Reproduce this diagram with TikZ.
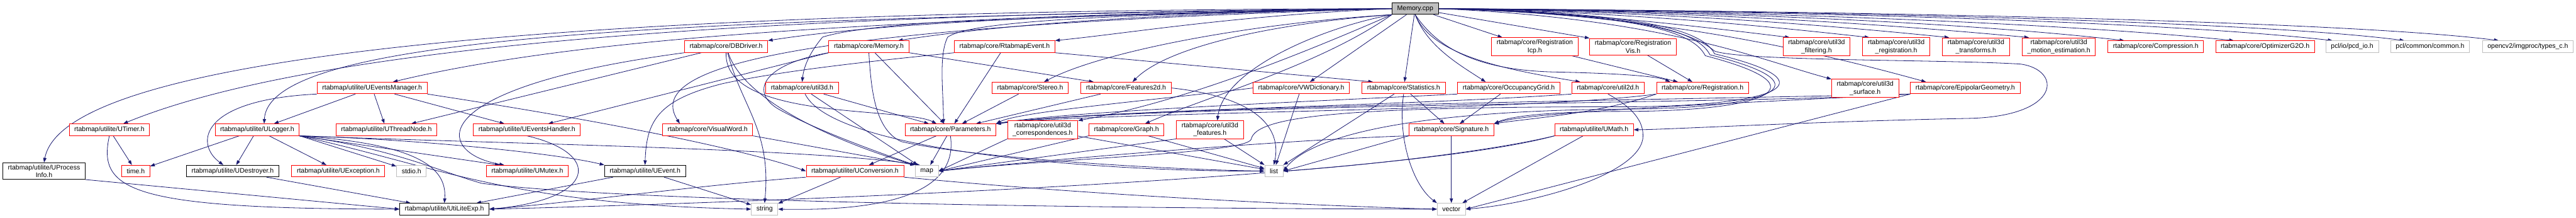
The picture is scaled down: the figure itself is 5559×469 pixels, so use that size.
\documentclass[tikz,border=0pt]{standalone}
\usepackage{fontspec}
\setmainfont{Liberation Sans}
\usepackage{tikz}
\usetikzlibrary{arrows.meta,backgrounds}

\definecolor{edgeblue}{HTML}{191970}
\definecolor{grey75}{HTML}{BFBFBF}

\tikzset{
  filebox/.style={draw, line width=1.2pt, fill=white, font=\fontsize{14.3}{17}\selectfont,
    inner xsep=11pt, inner ysep=4pt, minimum height=25pt, align=center},
  truncfile/.style={filebox, draw=red},
  docfile/.style={filebox, draw=black},
  sysfile/.style={filebox, draw=grey75},
  rootfile/.style={filebox, draw=black, fill=grey75},
  dep/.style={->, draw=edgeblue, line width=1.1pt},
}

\begin{document}
\begin{tikzpicture}[x=1pt, y=1pt, >={Triangle[length=10pt,width=7pt]}]
        \useasboundingbox (0,0) rectangle (5559,-469);

        % Root
        \node[rootfile] (mcpp) at (3054,-18.5) {Memory.cpp};

        % Row 1
        \node[truncfile] (dbdriver) at (1567,-100.5) {rtabmap/core/DBDriver.h};
        \node[truncfile] (memh) at (1875,-100.5) {rtabmap/core/Memory.h};
        \node[truncfile] (rtevent) at (2168,-100.5) {rtabmap/core/RtabmapEvent.h};
        \node[truncfile] (regicp) at (3312,-100.5) {rtabmap/core/Registration\\Icp.h};
        \node[truncfile] (regvis) at (3524,-100.5) {rtabmap/core/Registration\\Vis.h};
        \node[truncfile] (u3filt) at (3920,-100.5) {rtabmap/core/util3d\\\_filtering.h};
        \node[truncfile] (u3reg) at (4092,-100.5) {rtabmap/core/util3d\\\_registration.h};
        \node[truncfile] (u3trans) at (4264,-100.5) {rtabmap/core/util3d\\\_transforms.h};
        \node[truncfile] (u3motion) at (4443,-100.5) {rtabmap/core/util3d\\\_motion\_estimation.h};
        \node[truncfile] (compr) at (4652,-100.5) {rtabmap/core/Compression.h};
        \node[truncfile] (optg2o) at (4888,-100.5) {rtabmap/core/OptimizerG2O.h};
        \node[sysfile] (pcdio) at (5076,-100.5) {pcl/io/pcd\_io.h};
        \node[sysfile] (pclcommon) at (5244,-100.5) {pcl/common/common.h};
        \node[sysfile] (typesc) at (5455,-100.5) {opencv2/imgproc/types\_c.h};

        % Row 2
        \node[truncfile] (uevmgr) at (803,-189.5) {rtabmap/utilite/UEventsManager.h};
        \node[truncfile] (util3dh) at (1731,-189.5) {rtabmap/core/util3d.h};
        \node[truncfile] (stereo) at (2223,-189.5) {rtabmap/core/Stereo.h};
        \node[truncfile] (feat2d) at (2430,-189.5) {rtabmap/core/Features2d.h};
        \node[truncfile] (vwdict) at (2808,-189.5) {rtabmap/core/VWDictionary.h};
        \node[truncfile] (stats) at (3029,-189.5) {rtabmap/core/Statistics.h};
        \node[truncfile] (occgrid) at (3256,-189.5) {rtabmap/core/OccupancyGrid.h};
        \node[truncfile] (util2d) at (3470,-189.5) {rtabmap/core/util2d.h};
        \node[truncfile] (reg) at (3674,-189.5) {rtabmap/core/Registration.h};
        \node[truncfile] (u3surf) at (4025,-190) {rtabmap/core/util3d\\\_surface.h};
        \node[truncfile] (epipolar) at (4241,-189.5) {rtabmap/core/EpipolarGeometry.h};

        % Row 3
        \node[truncfile] (utimer) at (236,-279.5) {rtabmap/utilite/UTimer.h};
        \node[truncfile] (ulogger) at (555,-279.5) {rtabmap/utilite/ULogger.h};
        \node[truncfile] (uthread) at (834,-279.5) {rtabmap/utilite/UThreadNode.h};
        \node[truncfile] (uevhandler) at (1137,-279.5) {rtabmap/utilite/UEventsHandler.h};
        \node[truncfile] (vword) at (1527,-279.5) {rtabmap/core/VisualWord.h};
        \node[truncfile] (params) at (2051,-279.5) {rtabmap/core/Parameters.h};
        \node[truncfile] (u3corr) at (2250,-279.5) {rtabmap/core/util3d\\\_correspondences.h};
        \node[truncfile] (graph) at (2431,-279.5) {rtabmap/core/Graph.h};
        \node[truncfile] (u3feat) at (2611,-279.5) {rtabmap/core/util3d\\\_features.h};
        \node[truncfile] (signature) at (3132,-279.5) {rtabmap/core/Signature.h};
        \node[truncfile] (umath) at (3440,-279.5) {rtabmap/utilite/UMath.h};

        % Row 4
        \node[docfile] (uprocinfo) at (95,-368.5) {rtabmap/utilite/UProcess\\Info.h};
        \node[truncfile] (timeh) at (293,-368.5) {time.h};
        \node[docfile] (udestroyer) at (502,-368.5) {rtabmap/utilite/UDestroyer.h};
        \node[truncfile] (uexception) at (730,-368.5) {rtabmap/utilite/UException.h};
        \node[sysfile] (stdioh) at (888,-368.5) {stdio.h};
        \node[truncfile] (umutex) at (1138,-368.5) {rtabmap/utilite/UMutex.h};
        \node[docfile] (uevent) at (1392,-368.5) {rtabmap/utilite/UEvent.h};
        \node[truncfile] (uconv) at (1845,-368.5) {rtabmap/utilite/UConversion.h};
        \node[sysfile] (maph) at (2000,-368.5) {map};
        \node[sysfile] (listh) at (2749,-368.5) {list};

        % Row 5
        \node[docfile] (utiliteexp) at (959,-450.5) {rtabmap/utilite/UtiLiteExp.h};
        \node[sysfile] (stringh) at (1650,-450.5) {string};
        \node[sysfile] (vectorh) at (3132,-450.5) {vector};

        \begin{scope}[on background layer]
        % Memory.cpp, to the left
        \draw[dep] (mcpp.west) .. controls (1300,-22) and (140,-110) .. (uprocinfo.north);
        \draw[dep] (mcpp.west) .. controls (1500,-30) and (650,-110) .. ([xshift=30pt]utimer.north);
        \draw[dep] (mcpp.west) .. controls (1400,-40) and (580,-80) .. ([xshift=15pt]ulogger.north);
        \draw[dep] (mcpp.west) .. controls (1900,-40) and (1250,-80) .. ([xshift=45pt]uevmgr.north);
        \draw[dep] (mcpp.west) .. controls (1800,-55) and (1380,-130) .. ([xshift=-60pt]vword.north);
        \draw[dep] (mcpp.west) .. controls (2400,-30) and (1900,-40) .. (1775,-80)
            .. controls (1750,-110) and (1735,-140) .. (util3dh.north);
        \draw[dep] (mcpp.west) .. controls (2300,-30) and (1900,-50) .. (dbdriver.north east);
        \draw[dep] (mcpp.west) .. controls (2450,-30) and (2150,-55) .. ([xshift=-24pt]memh.north east);
        \draw[dep] (mcpp.west) .. controls (2650,-35) and (2450,-70) .. (rtevent.north east);
        \draw[dep] (mcpp.west) .. controls (2500,-30) and (2100,-40) .. (2045,-80)
            .. controls (2025,-120) and (2036,-200) .. ([xshift=-15pt]params.north);
        \draw[dep] (mcpp.south west) .. controls (2700,-50) and (2380,-110) .. ([xshift=30pt]stereo.north);
        \draw[dep] (mcpp.south west) .. controls (2750,-50) and (2520,-100) .. ([xshift=14pt]feat2d.north);
        \draw[dep] (mcpp.south west) .. controls (2800,-120) and (2550,-220) .. (u3corr.north east);
        \draw[dep] (mcpp.south west) .. controls (2850,-140) and (2600,-210) .. ([xshift=40pt]graph.north);
        \draw[dep] (mcpp.south west) .. controls (2850,-60) and (2640,-150) .. ([xshift=16pt]u3feat.north);
        \draw[dep] (mcpp) -- (vwdict);
        \draw[dep] (mcpp) -- (stats);

        % Memory.cpp, below and to the right
        \draw[dep] (mcpp.south) .. controls (3080,-100) and (3150,-140) .. ([xshift=-50pt]occgrid.north);
        \draw[dep] (mcpp.south) .. controls (3090,-120) and (3250,-150) .. ([xshift=-60pt]util2d.north);
        \draw[dep] (mcpp.south) .. controls (3100,-100) and (3180,-150) .. (3350,-155)
            .. controls (3500,-158) and (3580,-165) .. ([xshift=-70pt]reg.north);
        \draw[dep] (mcpp) -- ([xshift=24pt]regicp.north west);
        \draw[dep] (mcpp) -- (regvis.north west);
        \draw[dep] (mcpp.east) .. controls (3600,-40) and (3800,-130) .. (u3surf.north west);
        \draw[dep] (mcpp.east) .. controls (3600,-30) and (3950,-120) .. ([xshift=34pt]epipolar.north west);
        \draw[dep] (mcpp.east) .. controls (3500,-30) and (3650,-60) .. (3680,-120)
            .. controls (3950,-190) and (3800,-240) .. (3500,-240)
            .. controls (3350,-240) and (3260,-250) .. (signature.north east);
        \draw[dep] (mcpp.east) .. controls (3500,-28) and (3660,-58) .. (3690,-118)
            .. controls (3960,-185) and (3810,-235) .. (3500,-235)
            .. controls (2900,-240) and (2800,-330) .. (listh.east);
        \draw[dep] (mcpp.east) .. controls (3500,-26) and (3670,-56) .. (3700,-116)
            .. controls (3970,-180) and (3820,-230) .. (3500,-230)
            .. controls (2900,-230) and (2710,-250) .. (2700,-300)
            .. controls (2690,-330) and (2300,-340) .. (maph.east);
        \draw[dep] (mcpp.east) .. controls (3500,-30) and (3640,-60) .. (3700,-110)
            .. controls (3760,-132) and (4200,-128) .. (4360,-138)
            .. controls (4450,-150) and (4450,-250) .. (4250,-255)
            .. controls (3900,-262) and (3600,-279) .. (umath.east);
        \draw[dep] (mcpp.east) .. controls (3400,-25) and (3650,-55) .. ([xshift=15pt]u3filt.north west);
        \draw[dep] (mcpp.east) .. controls (3500,-25) and (3800,-55) .. ([xshift=15pt]u3reg.north west);
        \draw[dep] (mcpp.east) .. controls (3600,-25) and (3950,-55) .. ([xshift=15pt]u3trans.north west);
        \draw[dep] (mcpp.east) .. controls (3700,-25) and (4100,-55) .. ([xshift=15pt]u3motion.north west);
        \draw[dep] (mcpp.east) .. controls (3800,-25) and (4300,-55) .. ([xshift=36pt]compr.north west);
        \draw[dep] (mcpp.east) .. controls (3900,-25) and (4500,-55) .. ([xshift=40pt]optg2o.north west);
        \draw[dep] (mcpp.east) .. controls (4000,-25) and (4700,-50) .. ([xshift=15pt]pcdio.north west);
        \draw[dep] (mcpp.east) .. controls (4100,-25) and (4900,-50) .. ([xshift=30pt]pclcommon.north west);
        \draw[dep] (mcpp.east) .. controls (4200,-25) and (5100,-50) .. ([xshift=36pt]typesc.north west);

        % utilite headers
        \draw[dep] (uprocinfo.south east) -- (utiliteexp.west);
        \draw[dep] (utimer) -- (timeh);
        \draw[dep] (utimer.south) .. controls (210,-410) and (280,-450) .. (utiliteexp.west);
        \draw[dep] (ulogger) -- (timeh);
        \draw[dep] (ulogger) -- (udestroyer);
        \draw[dep] (ulogger) -- (uexception);
        \draw[dep] (ulogger.south east) -- (stdioh);
        \draw[dep] (ulogger.south east) -- ([xshift=-60pt]umutex.north);
        \draw[dep] (ulogger.south east) .. controls (900,-300) and (1200,-330) .. (uevent.north west);
        \draw[dep] (ulogger.south east) .. controls (900,-310) and (965,-360) .. (utiliteexp.north);
        \draw[dep] (ulogger.south east) .. controls (1100,-310) and (1750,-320) .. ([xshift=-15pt]maph.north);
        \draw[dep] (ulogger.south east) .. controls (950,-360) and (1100,-440) .. (stringh.west);
        \draw[dep] (ulogger.south east) .. controls (850,-320) and (950,-370) .. (1040,-395)
            .. controls (1400,-440) and (2600,-450) .. (vectorh.west);
        \draw[dep] (udestroyer) -- (utiliteexp);
        \draw[dep] (uevmgr) -- (ulogger);
        \draw[dep] (uevmgr.south west) .. controls (430,-215) and (420,-310) .. ([xshift=-20pt]udestroyer.north);
        \draw[dep] (uevmgr) -- (uthread);
        \draw[dep] (uevmgr) -- (uevhandler);
        \draw[dep] (uevmgr.south east) .. controls (1300,-260) and (1600,-320) .. (uconv.west);
        \draw[dep] (uevhandler.south) .. controls (1300,-330) and (1290,-430) .. (utiliteexp.east);
        \draw[dep] (uevent) -- (utiliteexp);
        \draw[dep] (uevent) -- (stringh);

        % core headers
        \draw[dep] (dbdriver) -- (uthread);
        \draw[dep] (dbdriver.south west) .. controls (900,-190) and (940,-330) .. ([xshift=-50pt]umutex.north);
        \draw[dep] (dbdriver) .. controls (1600,-230) and (1665,-280) .. (stringh.north);
        \draw[dep] (dbdriver) .. controls (1610,-230) and (1850,-320) .. (maph.north west);
        \draw[dep] (dbdriver.south) .. controls (1560,-260) and (1950,-230) .. ([xshift=-30pt]params.north);
        \draw[dep] (memh) -- (params);
        \draw[dep] (memh.south west) .. controls (1640,-140) and (1620,-200) .. (1680,-235)
            .. controls (1760,-280) and (1900,-330) .. (maph.north west);
        \draw[dep] (memh.south east) -- ([xshift=-70pt]feat2d.north);
        \draw[dep] (memh.south west) -- ([xshift=-70pt]uevhandler.north east);
        \draw[dep] (memh.south) .. controls (1880,-200) and (1890,-280) .. (1945,-305)
            .. controls (2100,-340) and (2500,-365) .. (listh.west);
        \draw[dep] (rtevent.south west) .. controls (1900,-130) and (1700,-150) .. (1560,-180)
            .. controls (1420,-215) and (1395,-260) .. (uevent.north);
        \draw[dep] (rtevent.south east) -- ([xshift=24pt]stats.north west);
        \draw[dep] (rtevent) -- (params);
        \draw[dep] (vword.south east) -- (maph.north west);
        \draw[dep] (util3dh) -- (maph);
        \draw[dep] (util3dh) -- (params);
        \draw[dep] (util3dh) .. controls (1800,-330) and (2400,-370) .. (listh.west);
        \draw[dep] (params) -- (uconv);
        \draw[dep] (params) -- (maph);
        \draw[dep] (params.south) .. controls (2070,-420) and (1900,-455) .. (stringh.east);
        \draw[dep] (uconv) -- (stringh);
        \draw[dep] (uconv.south west) .. controls (1500,-400) and (1250,-435) .. (utiliteexp.east);
        \draw[dep] (uconv.south east) .. controls (2400,-425) and (2900,-445) .. (vectorh.west);
        \draw[dep] (stereo) -- (params);
        \draw[dep] (feat2d) -- (params);
        \draw[dep] (feat2d.east) .. controls (2720,-210) and (2765,-280) .. (listh.north);
        \draw[dep] (vwdict) -- (listh);
        \draw[dep] (vwdict.west) .. controls (2500,-215) and (2200,-240) .. (params.north east);
        \draw[dep] (u3corr) -- (listh);
        \draw[dep] (u3corr.south west) -- (maph.east);
        \draw[dep] (graph) -- (listh);
        \draw[dep] (graph.south west) -- (maph.east);
        \draw[dep] (u3feat) -- (listh);
        \draw[dep] (u3feat.south west) -- (maph.east);
        \draw[dep] (stats) -- (signature);
        \draw[dep] (stats.south) .. controls (3015,-300) and (3050,-400) .. (vectorh.north west);
        \draw[dep] (stats) -- (listh.north east);
        \draw[dep] (occgrid) -- (signature);
        \draw[dep] (occgrid.south west) .. controls (2800,-220) and (2300,-240) .. (params.north east);
        \draw[dep] (util2d.south west) .. controls (3000,-230) and (2400,-235) .. (params.north east);
        \draw[dep] (util2d.south) .. controls (3520,-230) and (3550,-260) .. (3545,-300)
            .. controls (3530,-380) and (3300,-440) .. (vectorh.east);
        \draw[dep] (reg.south west) .. controls (3300,-240) and (2400,-240) .. (params.north east);
        \draw[dep] (reg.south west) .. controls (3450,-245) and (3300,-255) .. (signature.north east);
        \draw[dep] (regicp) -- (reg);
        \draw[dep] (regvis) -- (reg);
        \draw[dep] (signature) -- (vectorh);
        \draw[dep] (signature.south west) .. controls (2800,-300) and (2300,-340) .. (maph.east);
        \draw[dep] (signature.south west) -- (listh.east);
        \draw[dep] (umath) -- (vectorh);
        \draw[dep] (umath.south west) .. controls (3200,-330) and (2900,-360) .. (listh.east);
        \draw[dep] (umath.south west) .. controls (3000,-390) and (1500,-440) .. (utiliteexp.east);
        \draw[dep] (epipolar.south west) -- (vectorh.east);
        \draw[dep] (epipolar.south west) .. controls (3800,-220) and (3300,-240) .. (signature.north east);
        \draw[dep] (epipolar.south west) .. controls (3600,-215) and (2400,-230) .. (params.north east);
        \draw[dep] (u3surf.south west) .. controls (3700,-220) and (2400,-230) .. (params.north east);
        \end{scope}
    \end{tikzpicture}
\end{document}
